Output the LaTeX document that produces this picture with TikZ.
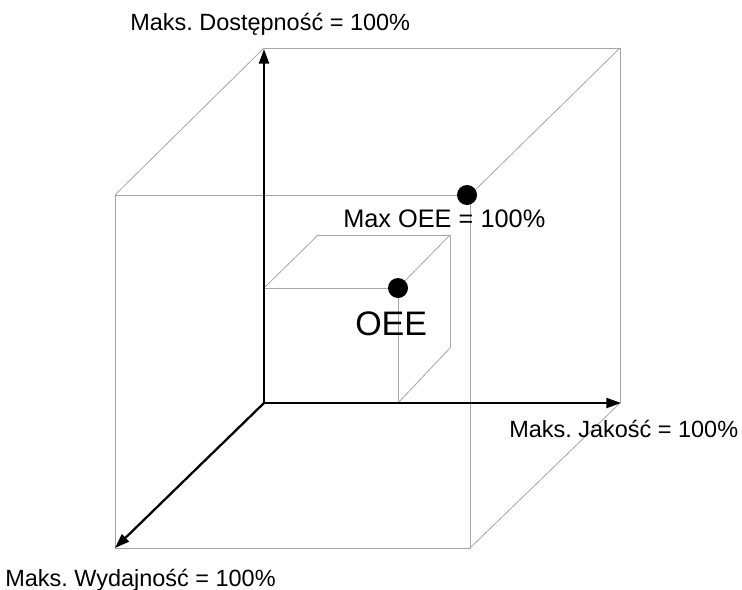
\documentclass[tikz,border=0pt]{standalone}
\usepackage{fontspec}
\setmainfont{Liberation Sans}
\usetikzlibrary{arrows.meta}
\begin{document}
\frenchspacing
\begin{tikzpicture}[x=0.75pt,y=-0.75pt,
  edge/.style={draw=black!35,line width=0.6pt},
  axis/.style={draw=black,line width=1.7pt,-{Triangle[length=11pt,width=7.5pt]}},
  lbl/.style={inner sep=0pt,anchor=base west,font=\fontsize{17.6}{20}\selectfont},
  dot/.style={circle,fill=black,inner sep=0pt,minimum size=15pt}]
\useasboundingbox (0,0) rectangle (742,589);
% big cube corners
\coordinate (O) at (264,403);
\coordinate (BT) at (264,48);
\coordinate (BTR) at (620,48);
\coordinate (BR) at (620,403);
\coordinate (FTL) at (115,195);
\coordinate (FTR) at (470,195);
\coordinate (FBR) at (470,548);
\coordinate (FBL) at (115,548);
% small cube corners
\coordinate (sFTL) at (264,288);
\coordinate (sFTR) at (398,288);
\coordinate (sFBR) at (398,403);
\coordinate (sBTL) at (318,235);
\coordinate (sBTR) at (450,235);
\coordinate (sBBR) at (450,348);
% big cube thin edges
\draw[edge] (FTL) rectangle (FBR);
\draw[edge] (BT) -- (BTR) -- (BR);
\draw[edge] (FTL) -- (BT);
\draw[edge] (FTR) -- (BTR);
\draw[edge] (FBR) -- (BR);
% small cube thin edges
\draw[edge] (sFTL) -- (sFTR) -- (sFBR);
\draw[edge] (sBTL) -- (sBTR) -- (sBBR);
\draw[edge] (sFTL) -- (sBTL);
\draw[edge] (sFTR) -- (sBTR);
\draw[edge] (sFBR) -- (sBBR);
% axes
\coordinate (Yt) at (264,49);
\coordinate (Xt) at (621,403);
\coordinate (Zt) at (115,548);
\draw[axis] (O) -- (Yt);
\draw[axis] (O) -- (Xt);
\draw[axis] (O) -- (Zt);
% dots
\node[dot] (maxdot) at (467,195) {};
\node[dot] (oeedot) at (398,288) {};
% labels
\node[lbl] (ldost) at (130,31) {Maks. Dostępność = 100\%};
\node[lbl] (ljak) at (509,437) {Maks. Jakość = 100\%};
\node[lbl] (lwyd) at (5,586) {Maks. Wydajność = 100\%};
\node[lbl,font=\fontsize{19}{22}\selectfont] (lmax) at (343,227) {Max OEE = 100\%};
\node[lbl,font=\fontsize{25.5}{28}\selectfont] (loee) at (355,335) {OEE};
\end{tikzpicture}
\end{document}
